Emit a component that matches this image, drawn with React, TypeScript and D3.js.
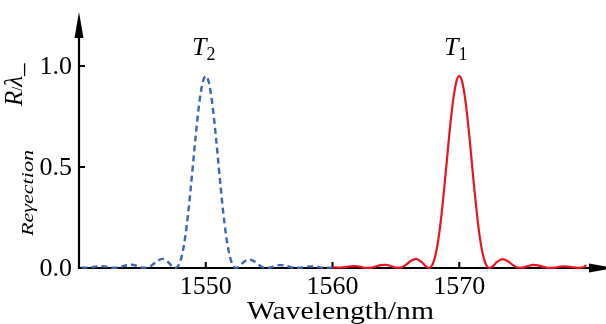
import React, { useEffect, useState } from "react";
import * as d3 from "d3";

const blueWl = [1540.2,1540.6,1541.0,1541.4,1541.8,1542.2,1542.6,1543.0,1543.4,1543.8,1544.2,1544.6,1545.0,1545.4,1545.8,1546.2,1546.6,1547.0,1547.4,1547.6,1547.8,1548.0,1548.2,1548.4,1548.6,1548.8,1549.0,1549.2,1549.4,1549.6,1549.8,1550.0,1550.2,1550.4,1550.6,1550.8,1551.0,1551.2,1551.4,1551.6,1551.8,1552.0,1552.2,1552.4,1552.6,1553.0,1553.4,1553.8,1554.2,1554.6,1555.0,1555.4,1555.8,1556.2,1556.6,1557.0,1557.4,1557.8,1558.2,1558.6,1559.0,1559.4,1559.8,1560.0];
const blueR = [0.003,0.002,0.004,0.008,0.009,0.006,0.001,0.001,0.007,0.014,0.016,0.010,0.002,0.002,0.016,0.036,0.045,0.031,0.006,0.0,0.008,0.035,0.086,0.162,0.264,0.385,0.517,0.650,0.770,0.866,0.929,0.950,0.929,0.866,0.770,0.650,0.517,0.385,0.264,0.162,0.086,0.035,0.008,0.0,0.006,0.030,0.042,0.034,0.015,0.002,0.002,0.009,0.014,0.013,0.006,0.001,0.001,0.005,0.008,0.007,0.003,0.001,0.002,0.003];

const redWl = [1560.0,1560.2,1560.6,1561.0,1561.4,1561.8,1562.2,1562.6,1563.0,1563.4,1563.8,1564.2,1564.6,1565.0,1565.4,1565.8,1566.2,1566.6,1567.0,1567.4,1567.6,1567.8,1568.0,1568.2,1568.4,1568.6,1568.8,1569.0,1569.2,1569.4,1569.6,1569.8,1570.0,1570.2,1570.4,1570.6,1570.8,1571.0,1571.2,1571.4,1571.6,1571.8,1572.0,1572.2,1572.4,1572.6,1573.0,1573.4,1573.8,1574.2,1574.6,1575.0,1575.4,1575.8,1576.2,1576.6,1577.0,1577.4,1577.8,1578.2,1578.6,1579.0,1579.4,1579.8,1580.0];
const redR = [0.002,0.003,0.002,0.004,0.008,0.009,0.006,0.001,0.001,0.007,0.014,0.016,0.010,0.002,0.002,0.016,0.036,0.045,0.031,0.006,0.0,0.008,0.035,0.086,0.162,0.264,0.385,0.517,0.650,0.770,0.866,0.929,0.950,0.929,0.866,0.770,0.650,0.517,0.385,0.264,0.162,0.086,0.035,0.008,0.0,0.006,0.031,0.044,0.035,0.016,0.002,0.002,0.009,0.015,0.013,0.006,0.001,0.001,0.005,0.008,0.007,0.003,0.001,0.003,0.016];

const xTicks = [1550, 1560, 1570];
const yTicks = [0.0, 0.5, 1.0];
const yTickLabels = ["0.0", "0.5", "1.0"];

const F = `"Liberation Serif"`;

export default function App() {
  const [tick, setTick] = useState(0);
  useEffect(() => {
    const id = setTimeout(() => setTick(1), 50);
    return () => clearTimeout(id);
  }, []);
  const x = d3.scaleLinear().domain([1540, 1580]).range([79, 586]);
  const y = d3.scaleLinear().domain([0, 1]).range([268, 66]);
  const line = d3
    .line<[number, number]>()
    .x((d) => x(d[0]))
    .y((d) => y(d[1]))
    .curve(d3.curveMonotoneX);
  const blue = blueWl.map((w, i) => [w, blueR[i]] as [number, number]);
  const red = redWl.map((w, i) => [w, redR[i]] as [number, number]);
  const x0 = x(1540);
  const yb = y(0);
  return (
    <svg key={tick} width={606} height={324} style={{ position: "fixed", left: 0, top: 0 }}>
      <line x1={x0} y1={yb} x2={x0} y2={36} stroke="#000" strokeWidth={2.2} />
      <polygon points={`${x0},12 ${x0 - 4.5},38 ${x0 + 4.5},38`} fill="#000" />
      <line x1={x0 - 1} y1={yb} x2={592} y2={yb} stroke="#000" strokeWidth={2.2} />
      <polygon points={`614,${yb} 589,${yb - 4.5} 589,${yb + 4.5}`} fill="#000" />
      {xTicks.map((t) => (
        <g key={t}>
          <line x1={x(t)} x2={x(t)} y1={yb} y2={yb - 6} stroke="#000" strokeWidth={2} />
          <text x={x(t)} y={294} textAnchor="middle" style={{ fontFamily: F, fontSize: 26 }}>
            {t}
          </text>
        </g>
      ))}
      {yTicks.map((t, i) => (
        <g key={t}>
          {t > 0 && (
            <line x1={x0} x2={x0 + 6} y1={y(t)} y2={y(t)} stroke="#000" strokeWidth={2} />
          )}
          <text x={72} y={y(t) + 8} textAnchor="end" style={{ fontFamily: F, fontSize: 26 }}>
            {yTickLabels[i]}
          </text>
        </g>
      ))}
      <path d={line(blue) || ""} fill="none" stroke="#3a66b5" strokeWidth={2.4} strokeDasharray="6,4" />
      <path d={line(red) || ""} fill="none" stroke="#e8141e" strokeWidth={2.2} />
      <text x={192} y={55} style={{ fontFamily: F, fontSize: 26, fontStyle: "italic" }}>
        T<tspan dy={5} style={{ fontFamily: F, fontSize: 18, fontStyle: "normal" }}>2</tspan>
      </text>
      <text x={444} y={55} style={{ fontFamily: F, fontSize: 26, fontStyle: "italic" }}>
        T<tspan dy={5} style={{ fontFamily: F, fontSize: 18, fontStyle: "normal" }}>1</tspan>
      </text>
      <text x={247} y={319} textLength={187} lengthAdjust="spacingAndGlyphs" style={{ fontFamily: F, fontSize: 25 }}>
        Wavelength/nm
      </text>
      <text
        transform="translate(33,236) rotate(-90)"
        textLength={86}
        lengthAdjust="spacingAndGlyphs"
        style={{ fontFamily: F, fontSize: 17, fontStyle: "italic" }}
      >
        Reγection
      </text>
      <text transform="translate(22,106) rotate(-90)" style={{ fontFamily: F, fontSize: 25, fontStyle: "italic" }}>
        R<tspan style={{ fontFamily: F, fontSize: 14, fontStyle: "normal" }}>/</tspan>λ<tspan style={{ fontFamily: F, fontSize: 25, fontStyle: "normal" }}>_</tspan>
      </text>
    </svg>
  );
}
